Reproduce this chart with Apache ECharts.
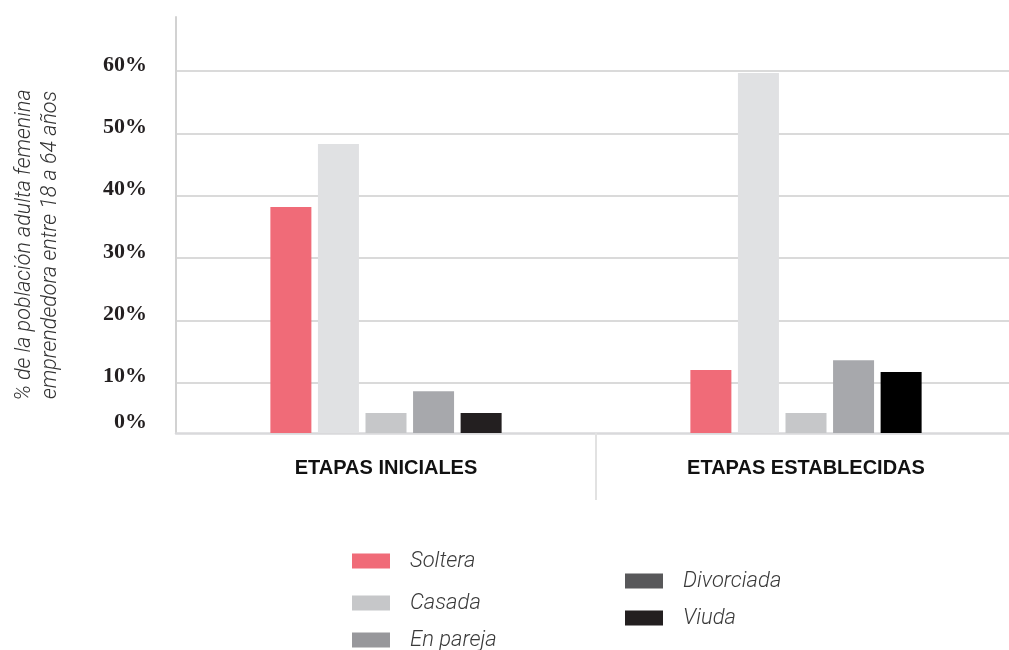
<!DOCTYPE html>
<html>
<head>
<meta charset="utf-8">
<script src="https://cdn.jsdelivr.net/npm/echarts@6/dist/echarts.min.js"></script>
<style>
  html, body { margin: 0; padding: 0; background: #fff; }
  #chart { width: 1009px; height: 650px; }
</style>
</head>
<body>
<div id="chart"></div>
<script>
// Etapas del emprendimiento femenino según estado civil (%)
const categories = ['ETAPAS INICIALES', 'ETAPAS ESTABLECIDAS'];
const seriesNames = ['Soltera', 'Casada', 'En pareja', 'Divorciada', 'Viuda'];

const soltera    = [38.2, 12.0];
const casada     = [48.3, 59.7];
const enPareja   = [5.1, 5.1];
const divorciada = [8.6, 13.6];
const viuda      = [5.1, 11.7];

const yTickValues = [10, 20, 30, 40, 50, 60];
const axisBase = 1.9;   // value at the drawn baseline, labelled 0%
const axisTop = 68.7;

const values = [soltera, casada, enPareja, divorciada, viuda];
const barColors = ['#f06b78', '#e0e1e3', '#c6c7c9', '#a7a8ac', '#231f20'];
const viudaColors = ['#231f20', '#000000'];
const legendColors = ['#f06b78', '#c6c7c9', '#97979b', '#58585a', '#231f20'];

const lightFont = "Roboto, 'Liberation Sans', sans-serif";

const series = seriesNames.map((name, i) => ({
  name: name,
  type: 'bar',
  barWidth: 41,
  barGap: '16%',
  clip: true,
  itemStyle: { color: barColors[i] },
  data: name === 'Viuda'
    ? values[i].map((v, k) => ({ value: v, itemStyle: { color: viudaColors[k] } }))
    : values[i]
}));

// one legend entry per block so each row sits where it belongs
function legendItem(name, left, top) {
  return {
    left: left,
    top: top,
    padding: 0,
    itemWidth: 38,
    itemHeight: 15,
    icon: 'rect',
    textStyle: {
      fontFamily: lightFont,
      fontStyle: 'italic',
      fontWeight: 300,
      fontSize: 22,
      color: '#3a3a3a',
      padding: [0, 0, 0, 15]
    },
    data: [{ name: name, itemStyle: { color: legendColors[seriesNames.indexOf(name)] } }]
  };
}

const option = {
  backgroundColor: '#ffffff',
  animation: false,
  grid: {
    left: 176, top: 17, right: -7, bottom: 217,
    containLabel: false,
    outerBoundsMode: 'none'
  },
  legend: [
    legendItem('Soltera', 352, 550),
    legendItem('Casada', 352, 592),
    legendItem('En pareja', 352, 629),
    legendItem('Divorciada', 625, 570),
    legendItem('Viuda', 625, 607)
  ],
  xAxis: [
    {
      type: 'category',
      data: categories,
      axisLine: { show: true, lineStyle: { color: '#d9d9db', width: 2.5 } },
      axisTick: { show: false },
      axisLabel: {
        margin: 25,
        fontFamily: "'Liberation Sans', Arial, sans-serif",
        fontWeight: 'bold',
        fontSize: 20,
        color: '#111'
      },
      splitLine: { show: false }
    },
    {
      // divider between the two stages, hanging below the baseline
      type: 'category',
      data: ['', '', ''],
      boundaryGap: false,
      position: 'bottom',
      axisLine: { show: false },
      axisLabel: { show: false },
      splitLine: { show: false },
      axisTick: {
        show: true,
        interval: (idx) => idx === 1,
        length: 67,
        lineStyle: { color: '#e2e2e2', width: 2 }
      }
    }
  ],
  yAxis: {
    type: 'value',
    min: axisBase,
    max: axisTop,
    splitNumber: 6,
    name: '% de la población adulta femenina\nemprendedora entre 18 a 64 años',
    nameLocation: 'middle',
    nameRotate: 90,
    nameGap: 112,
    nameTextStyle: {
      fontFamily: lightFont,
      fontStyle: 'italic',
      fontWeight: 300,
      fontSize: 21.5,
      lineHeight: 26,
      color: '#333',
      padding: [0, 40, 0, 0]
    },
    axisLine: { show: true, lineStyle: { color: '#d2d2d2', width: 2 } },
    axisTick: { show: false },
    splitLine: {
      show: true,
      showMinLine: false,
      showMaxLine: false,
      lineStyle: { color: '#dadada', width: 2 }
    },
    axisLabel: {
      margin: 29,
      formatter: (v) => {
        if (Math.abs(v - axisBase) < 1e-6) return '{b|0%}';
        if (yTickValues.indexOf(v) >= 0) return '{a|' + v + '%}';
        return '';
      },
      rich: {
        a: {
          fontFamily: "'Liberation Serif', 'Times New Roman', serif",
          fontWeight: 'bold',
          fontSize: 22,
          color: '#231f20',
          padding: [0, 0, 12, 0]
        },
        b: {
          fontFamily: "'Liberation Serif', 'Times New Roman', serif",
          fontWeight: 'bold',
          fontSize: 22,
          color: '#231f20',
          padding: [0, 0, 22, 0]
        }
      }
    }
  },
  series: series
};

const chart = echarts.init(document.getElementById('chart'), null, { renderer: 'canvas' });
chart.setOption(option);
</script>
</body>
</html>
